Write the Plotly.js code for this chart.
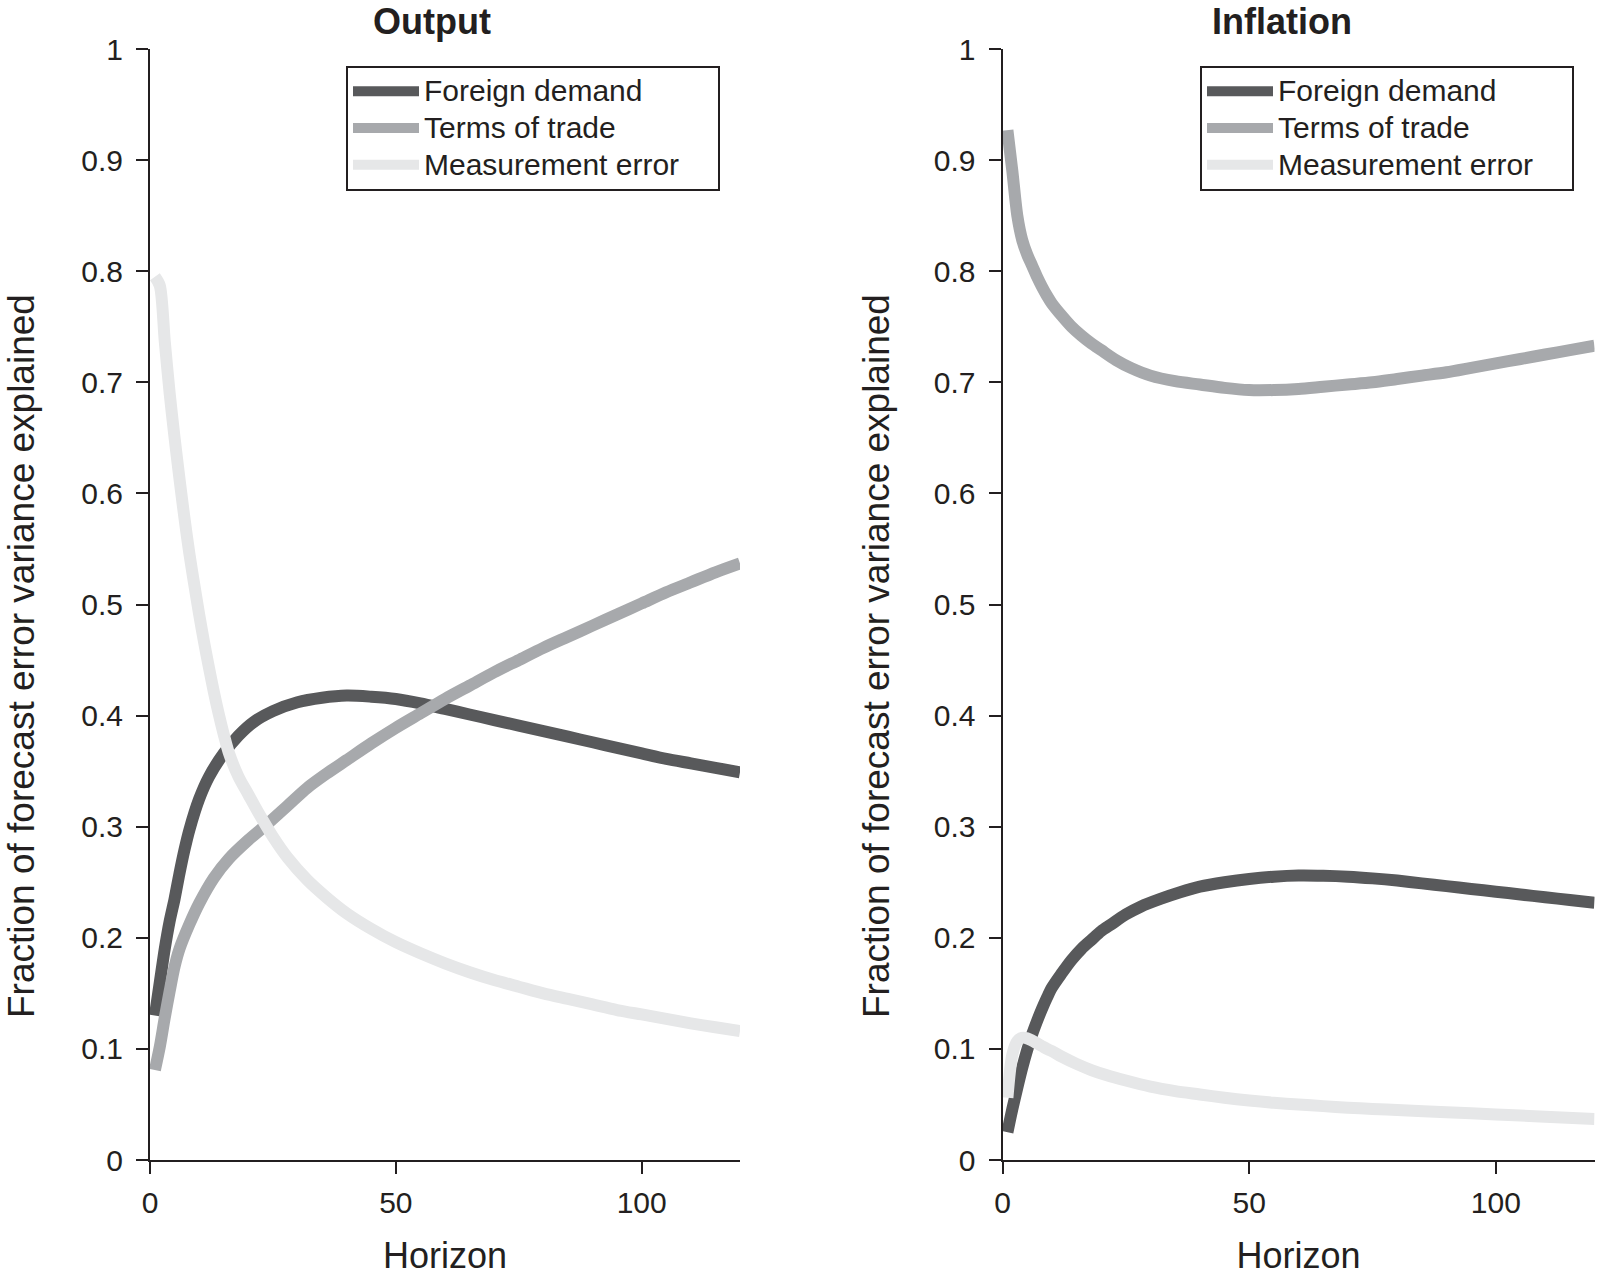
<!DOCTYPE html>
<html>
<head>
<meta charset="utf-8">
<script src="https://cdn.plot.ly/plotly-3.0.1.min.js"></script>
<style>html,body{margin:0;padding:0;background:#fff;}#chart{width:1601px;height:1282px;}</style>
</head>
<body>
<div id="chart"></div>
<script>
// ---------- data ----------
const seriesNames = ["Foreign demand", "Terms of trade", "Measurement error"];
const panelTitles = ["Output", "Inflation"];
const xTitle = "Horizon";
const yTitle = "Fraction of forecast error variance explained";
const xTickVals = [0, 50, 100];

// Output panel
const outFD_h = [1,2,3,4,5,6,7,8,10,12,15,18,21,25,30,35,40,45,50,55,60,65,70,75,80,85,90,95,100,105,110,115,120];
const outFD_v = [0.13,0.16,0.19,0.215,0.235,0.258,0.279,0.297,0.325,0.345,0.366,0.382,0.394,0.404,0.412,0.416,0.418,0.417,0.415,0.411,0.406,0.401,0.396,0.391,0.386,0.381,0.376,0.371,0.366,0.361,0.357,0.353,0.349];

const outTT_h = [1,2,3,4,5,6,8,10,13,16,20,24,28,32,36,40,45,50,55,60,65,70,75,80,85,90,95,100,105,110,115,120];
const outTT_v = [0.081,0.102,0.128,0.152,0.174,0.19,0.212,0.231,0.254,0.271,0.288,0.303,0.319,0.335,0.348,0.36,0.375,0.389,0.402,0.415,0.427,0.439,0.45,0.461,0.471,0.481,0.491,0.501,0.511,0.52,0.529,0.537];

const outME_h = [1,2,3,4,5,6,7,8,9,10,11,12,13,14,15,16,18,20,22,25,28,32,36,40,45,50,55,60,65,70,75,80,85,90,95,100,105,110,115,120];
const outME_v = [0.795,0.787,0.737,0.69,0.65,0.613,0.578,0.546,0.518,0.491,0.466,0.443,0.421,0.401,0.383,0.367,0.345,0.329,0.313,0.291,0.272,0.252,0.236,0.222,0.208,0.196,0.186,0.177,0.169,0.162,0.156,0.15,0.145,0.14,0.135,0.131,0.127,0.123,0.1195,0.116];

// Inflation panel
const infFD_h = [1,2,3,4,5,6,7,8,9,10,12,14,16,18,20,22,25,28,32,36,40,45,50,55,60,65,70,75,80,85,90,95,100,105,110,115,120];
const infFD_v = [0.025,0.046,0.065,0.083,0.099,0.113,0.125,0.136,0.146,0.155,0.168,0.18,0.19,0.198,0.206,0.212,0.221,0.228,0.235,0.241,0.246,0.25,0.253,0.255,0.256,0.2558,0.255,0.2535,0.2515,0.249,0.2465,0.244,0.2415,0.239,0.2365,0.234,0.2315];

const infTT_h = [1,2,3,4,5,6,7,8,9,10,12,14,16,18,20,23,26,30,35,40,45,50,55,60,65,70,75,80,85,90,95,100,105,110,115,120];
const infTT_v = [0.927,0.89,0.85,0.828,0.815,0.805,0.795,0.786,0.778,0.771,0.76,0.75,0.742,0.735,0.729,0.72,0.713,0.706,0.701,0.698,0.695,0.693,0.693,0.694,0.696,0.698,0.7,0.703,0.706,0.709,0.713,0.717,0.721,0.725,0.729,0.733];

const infME_h = [1,2,3,4,5,6,7,8,9,10,12,15,18,21,25,30,35,40,45,50,55,60,65,70,75,80,90,100,110,120];
const infME_v = [0.056,0.095,0.107,0.11,0.1095,0.1075,0.105,0.1025,0.1,0.098,0.093,0.0865,0.081,0.0765,0.0715,0.066,0.062,0.059,0.056,0.0535,0.0515,0.05,0.0485,0.047,0.046,0.045,0.043,0.041,0.039,0.037];

// ---------- styling ----------
const colors = ["#58595b", "#a7a9ac", "#e6e7e8"];
const ink = "#231f20";
const FONT = "Liberation Sans, Arial, Helvetica, sans-serif";
const LW = 12;
const legendPad = "&nbsp;&nbsp;&nbsp;&nbsp;";

function tr(x, y, i, xa, ya, lg) {
  return {
    type: "scatter", mode: "lines", x: x, y: y,
    name: '<span style="font-size:30px">' + seriesNames[i] + legendPad + '</span>',
    xaxis: xa, yaxis: ya, legend: lg,
    line: {color: colors[i], width: LW, shape: "spline", smoothing: 0.8},
    hoverinfo: "skip"
  };
}

const data = [
  tr(outFD_h, outFD_v, 0, "x", "y", "legend"),
  tr(outTT_h, outTT_v, 1, "x", "y", "legend"),
  tr(outME_h, outME_v, 2, "x", "y", "legend"),
  tr(infFD_h, infFD_v, 0, "x2", "y2", "legend2"),
  tr(infTT_h, infTT_v, 1, "x2", "y2", "legend2"),
  tr(infME_h, infME_v, 2, "x2", "y2", "legend2")
];

const W = 1601, H = 1282, T = 49, B = 122;
const PH = H - T - B;
const px = v => v / W;
const py = v => (H - B - v) / PH;

function xax(dom, anchor) {
  return {
    domain: dom, anchor: anchor, range: [0, 120], tickvals: xTickVals,
    showline: true, linecolor: ink, linewidth: 2, ticks: "outside", ticklen: 12, tickwidth: 2, tickcolor: ink,
    showgrid: false, zeroline: false, automargin: false,
    tickfont: {family: FONT, size: 30, color: ink}, ticklabelstandoff: 3,
    title: {text: xTitle, font: {family: FONT, size: 36, color: ink}, standoff: 25}
  };
}
function yax(anchor) {
  return {
    domain: [0, 1], anchor: anchor, range: [0, 1], dtick: 0.1, tick0: 0,
    showline: true, linecolor: ink, linewidth: 2, ticks: "outside", ticklen: 12, tickwidth: 2, tickcolor: ink,
    showgrid: false, zeroline: false, automargin: false,
    tickfont: {family: FONT, size: 30, color: ink}, ticklabelstandoff: 7
  };
}
function leg(xl) {
  return {
    x: px(xl), y: py(66), xanchor: "left", yanchor: "top", xref: "paper", yref: "paper",
    bgcolor: "#ffffff", bordercolor: ink, borderwidth: 2,
    font: {family: FONT, size: 25.9, color: ink}, itemwidth: 66, tracegroupgap: 0
  };
}

const layout = {
  width: W, height: H,
  margin: {l: 0, r: 0, t: T, b: B, pad: 0},
  paper_bgcolor: "#ffffff", plot_bgcolor: "#ffffff",
  font: {family: FONT, color: ink},
  showlegend: true,
  xaxis: xax([px(150), px(740)], "y"),
  yaxis: yax("x"),
  xaxis2: xax([px(1002.5), px(1594.5)], "y2"),
  yaxis2: yax("x2"),
  legend: leg(346),
  legend2: leg(1200),
  annotations: [
    {text: "<b>" + panelTitles[0] + "</b>", x: px(432), y: py(21), xref: "paper", yref: "paper", showarrow: false, xanchor: "center", yanchor: "middle", font: {family: FONT, size: 36, color: ink}},
    {text: "<b>" + panelTitles[1] + "</b>", x: px(1281.5), y: py(21), xref: "paper", yref: "paper", showarrow: false, xanchor: "center", yanchor: "middle", font: {family: FONT, size: 36, color: ink}},
    {text: yTitle, textangle: -90, x: px(21), y: py(656), xref: "paper", yref: "paper", showarrow: false, xanchor: "center", yanchor: "middle", font: {family: FONT, size: 37, color: ink}},
    {text: yTitle, textangle: -90, x: px(876), y: py(656), xref: "paper", yref: "paper", showarrow: false, xanchor: "center", yanchor: "middle", font: {family: FONT, size: 37, color: ink}}
  ]
};

Plotly.newPlot("chart", data, layout, {staticPlot: true, displayModeBar: false});
</script>
</body>
</html>
